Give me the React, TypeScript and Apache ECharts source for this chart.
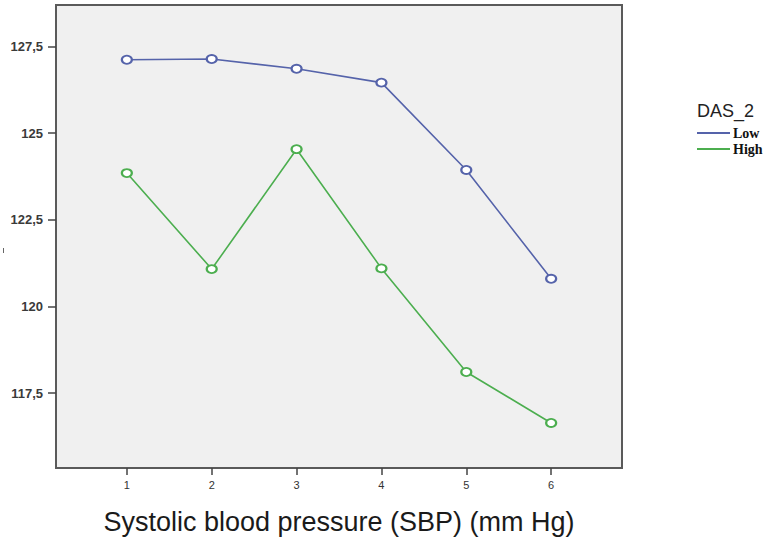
import React, { useEffect, useRef } from "react";
import * as echarts from "echarts";

const xValues = [1, 2, 3, 4, 5, 6];
const lowValues = [127.12, 127.14, 126.86, 126.46, 123.94, 120.8];
const highValues = [123.85, 121.08, 124.54, 121.1, 118.11, 116.64];
const xTicks = [1, 2, 3, 4, 5, 6];
const yTicks = [117.5, 120, 122.5, 125, 127.5];
const seriesNames = ["Low", "High"];

export default function App() {
  const ref = useRef<HTMLDivElement>(null);
  useEffect(() => {
    if (!ref.current) return;
    const chart = echarts.init(ref.current, undefined, { renderer: "svg" });
    const fmtY = (v: number) => String(v).replace(".", ",");
    chart.setOption({
      animation: false,
      backgroundColor: "#ffffff",
      grid: {
        left: 56,
        top: 5,
        width: 566,
        height: 464,
        show: true,
        backgroundColor: "#f0f0f0",
        borderColor: "#5a5a5a",
        borderWidth: 2,
      },
      xAxis: {
        type: "value",
        min: 0.165,
        max: 6.835,
        splitLine: { show: false },
        axisLine: { show: false },
        axisTick: {
          show: true,
          customValues: xTicks,
          inside: false,
          length: 7,
          lineStyle: { color: "#444", width: 1.5 },
        },
        axisLabel: {
          customValues: xTicks,
          margin: 11,
          fontSize: 11,
          color: "#333",
          fontFamily: "Liberation Sans",
        },
        name: "Systolic blood pressure (SBP) (mm Hg)",
        nameLocation: "middle",
        nameGap: 40,
        nameTextStyle: {
          fontSize: 27,
          color: "#1a1a1a",
          fontFamily: "Liberation Sans",
        },
      },
      yAxis: {
        type: "value",
        min: 115.34,
        max: 128.7,
        splitLine: { show: false },
        axisLine: { show: false },
        axisTick: {
          show: true,
          customValues: yTicks,
          length: 8,
          lineStyle: { color: "#444", width: 1.5 },
        },
        axisLabel: {
          customValues: yTicks,
          formatter: fmtY,
          margin: 13,
          fontSize: 13,
          fontWeight: "bold",
          color: "#3a3a3a",
          fontFamily: "Liberation Sans",
        },
      },
      legend: {
        orient: "vertical",
        left: 692,
        top: 120,
        itemWidth: 33,
        itemHeight: 2,
        itemGap: 0,
        icon: "rect",
        data: seriesNames,
        textStyle: {
          fontFamily: "Liberation Serif",
          fontWeight: "bold",
          fontSize: 14,
          lineHeight: 16,
          color: "#111",
          padding: [0, 0, 0, -2],
        },
      },
      graphic: [
        {
          type: "text",
          x: 697,
          y: 111,
          style: {
            text: "DAS_2",
            fontSize: 18,
            fontFamily: "Liberation Sans",
            fill: "#222",
            verticalAlign: "middle",
          },
        },
        {
          type: "rect",
          shape: { x: 3, y: 248, width: 1, height: 5 },
          style: { fill: "#666" },
        },
      ],
      series: [
        {
          name: seriesNames[0],
          type: "line",
          data: xValues.map((x, i) => [x, lowValues[i]]),
          color: "#5563aa",
          lineStyle: { width: 1.6, color: "#5563aa" },
          symbol: "emptyCircle",
          symbolSize: [10, 8],
          itemStyle: { color: "#5563aa", borderWidth: 1.2 },
        },
        {
          name: seriesNames[1],
          type: "line",
          data: xValues.map((x, i) => [x, highValues[i]]),
          color: "#4cae4f",
          lineStyle: { width: 1.6, color: "#4cae4f" },
          symbol: "emptyCircle",
          symbolSize: [10, 8],
          itemStyle: { color: "#4cae4f", borderWidth: 1.2 },
        },
      ],
    });
    return () => chart.dispose();
  }, []);
  return (
    <div
      ref={ref}
      style={{ position: "fixed", left: 0, top: 0, width: 764, height: 540 }}
    />
  );
}
